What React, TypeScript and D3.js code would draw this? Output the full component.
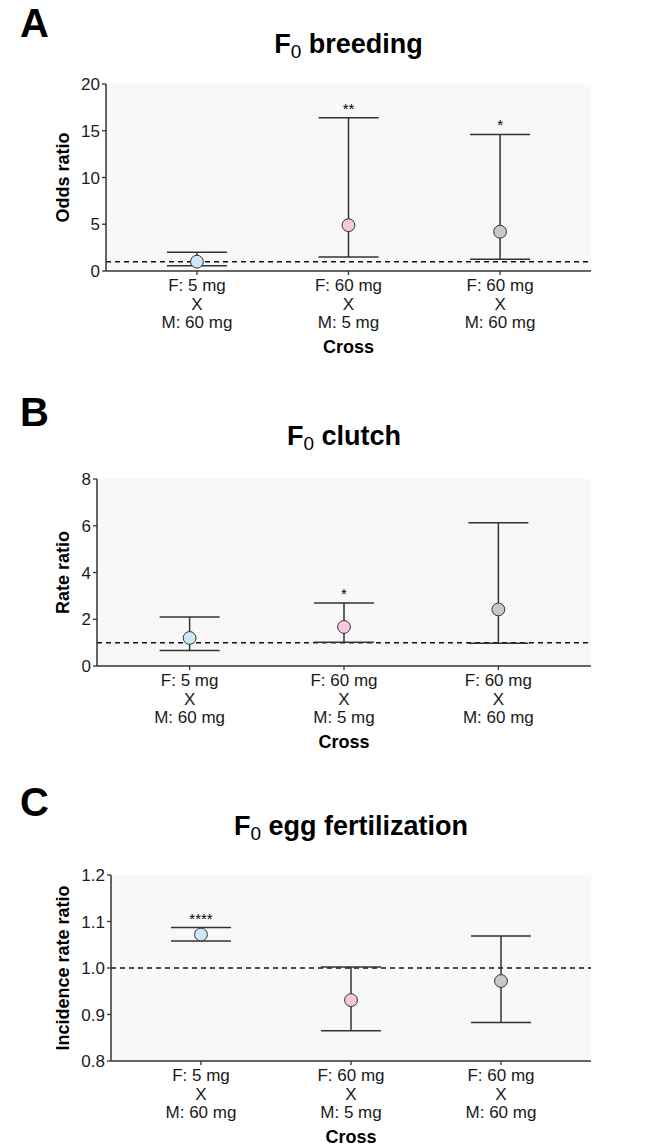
import React from "react";
import * as d3 from "d3";

// ---- data ----
const crossLines: string[][] = [
  ["F: 5 mg", "X", "M: 60 mg"],
  ["F: 60 mg", "X", "M: 5 mg"],
  ["F: 60 mg", "X", "M: 60 mg"],
];
const crossKeys = ["5x60", "60x5", "60x60"];
const pointColors = ["#cde8f8", "#f8c6df", "#c8c8c8"];

const breedingEstimate = [1.0, 4.9, 4.2];
const breedingLower = [0.55, 1.5, 1.25];
const breedingUpper = [2.0, 16.4, 14.6];
const breedingStars = ["", "**", "*"];
const breedingTicks = [0, 5, 10, 15, 20];

const clutchEstimate = [1.2, 1.67, 2.42];
const clutchLower = [0.66, 1.02, 0.97];
const clutchUpper = [2.1, 2.69, 6.13];
const clutchStars = ["", "*", ""];
const clutchTicks = [0, 2, 4, 6, 8];

const fertEstimate = [1.072, 0.931, 0.972];
const fertLower = [1.058, 0.865, 0.883];
const fertUpper = [1.087, 1.002, 1.069];
const fertStars = ["****", "", ""];
const fertTicks = [0.8, 0.9, 1.0, 1.1, 1.2];

const FONT = "'Liberation Sans', Arial, Helvetica, sans-serif";

type PanelProps = {
  letter: string;
  titleRest: string;
  yLabel: string;
  est: number[];
  lo: number[];
  hi: number[];
  stars: string[];
  ticks: number[];
  tickFmt: (v: number) => string;
  left: number;
  top: number;
  bottom: number;
  letterY: number;
  titleY: number;
};

const RIGHT = 591;

function Panel(p: PanelProps) {
  const x = d3.scalePoint<string>().domain(crossKeys).range([p.left, RIGHT]).padding(0.6);
  const y = d3
    .scaleLinear()
    .domain([p.ticks[0], p.ticks[p.ticks.length - 1]])
    .range([p.bottom, p.top]);
  const capHalf = 30;
  const stroke = "#333";
  const cx = (p.left + RIGHT) / 2;
  return (
    <g>
      <text x={20} y={p.letterY} fontFamily={FONT} fontWeight="bold" fontSize={40} fill="#000">
        {p.letter}
      </text>
      <text x={cx} y={p.titleY} textAnchor="middle" fontFamily={FONT} fontWeight="bold" fontSize={27} fill="#000">
        F
        <tspan fontSize={19} fontWeight="normal" dy={5}>0</tspan>
        <tspan dy={-5}>{" " + p.titleRest}</tspan>
      </text>
      <rect x={p.left} y={p.top} width={RIGHT - p.left} height={p.bottom - p.top} fill="#f8f8f8" />
      {/* reference line */}
      <line x1={p.left} x2={RIGHT} y1={y(1)} y2={y(1)} stroke="#111" strokeWidth={1.5} strokeDasharray="5,4" />
      {/* error bars */}
      {crossKeys.map((k, i) => (
        <g key={k}>
          <line x1={x(k)} x2={x(k)} y1={y(p.lo[i])} y2={y(p.hi[i])} stroke={stroke} strokeWidth={1.5} />
          <line x1={x(k)! - capHalf} x2={x(k)! + capHalf} y1={y(p.hi[i])} y2={y(p.hi[i])} stroke={stroke} strokeWidth={1.5} />
          <line x1={x(k)! - capHalf} x2={x(k)! + capHalf} y1={y(p.lo[i])} y2={y(p.lo[i])} stroke={stroke} strokeWidth={1.5} />
          <circle cx={x(k)} cy={y(p.est[i])} r={6.4} fill={pointColors[i]} stroke={stroke} strokeWidth={1} />
          {p.stars[i] && (
            <text x={x(k)} y={y(p.hi[i]) - 4} textAnchor="middle" fontFamily={FONT} fontSize={15} fill="#000">
              {p.stars[i]}
            </text>
          )}
        </g>
      ))}
      {/* y axis */}
      <line x1={p.left} x2={p.left} y1={p.top} y2={p.bottom} stroke={stroke} strokeWidth={1.5} />
      {p.ticks.map((t) => (
        <g key={t}>
          <line x1={p.left - 4} x2={p.left} y1={y(t)} y2={y(t)} stroke={stroke} strokeWidth={1.3} />
          <text x={p.left - 6} y={y(t) + 6} textAnchor="end" fontFamily={FONT} fontSize={17} fill="#1a1a1a">
            {p.tickFmt(t)}
          </text>
        </g>
      ))}
      {/* x axis */}
      <line x1={p.left} x2={RIGHT} y1={p.bottom} y2={p.bottom} stroke={stroke} strokeWidth={1.5} />
      {crossKeys.map((k, i) => (
        <g key={k}>
          <line x1={x(k)} x2={x(k)} y1={p.bottom} y2={p.bottom + 4} stroke={stroke} strokeWidth={1.3} />
          {crossLines[i].map((ln, j) => (
            <text key={j} x={x(k)} y={p.bottom + 20 + j * 18.5} textAnchor="middle" fontFamily={FONT} fontSize={17} fill="#1a1a1a">
              {ln}
            </text>
          ))}
        </g>
      ))}
      <text x={cx} y={p.bottom + 82} textAnchor="middle" fontFamily={FONT} fontWeight="bold" fontSize={18} fill="#000">
        Cross
      </text>
      <text
        transform={`translate(69,${(p.top + p.bottom) / 2}) rotate(-90)`}
        textAnchor="middle"
        fontFamily={FONT}
        fontWeight="bold"
        fontSize={18}
        fill="#000"
      >
        {p.yLabel}
      </text>
    </g>
  );
}

export default function App() {
  const f0 = d3.format("d");
  const f1 = d3.format(".1f");
  return (
    <svg width={650} height={1146} style={{ position: "absolute", left: 0, top: 0, background: "#fff" }}>
      <rect width={650} height={1146} fill="#fff" />
      <Panel
        letter="A"
        titleRest="breeding"
        yLabel="Odds ratio"
        est={breedingEstimate}
        lo={breedingLower}
        hi={breedingUpper}
        stars={breedingStars}
        ticks={breedingTicks}
        tickFmt={f0}
        left={106}
        top={84}
        bottom={271}
        letterY={37}
        titleY={53}
      />
      <Panel
        letter="B"
        titleRest="clutch"
        yLabel="Rate ratio"
        est={clutchEstimate}
        lo={clutchLower}
        hi={clutchUpper}
        stars={clutchStars}
        ticks={clutchTicks}
        tickFmt={f0}
        left={97}
        top={479}
        bottom={666}
        letterY={426}
        titleY={445}
      />
      <Panel
        letter="C"
        titleRest="egg fertilization"
        yLabel="Incidence rate ratio"
        est={fertEstimate}
        lo={fertLower}
        hi={fertUpper}
        stars={fertStars}
        ticks={fertTicks}
        tickFmt={f1}
        left={111}
        top={875}
        bottom={1061}
        letterY={816}
        titleY={835}
      />
    </svg>
  );
}
